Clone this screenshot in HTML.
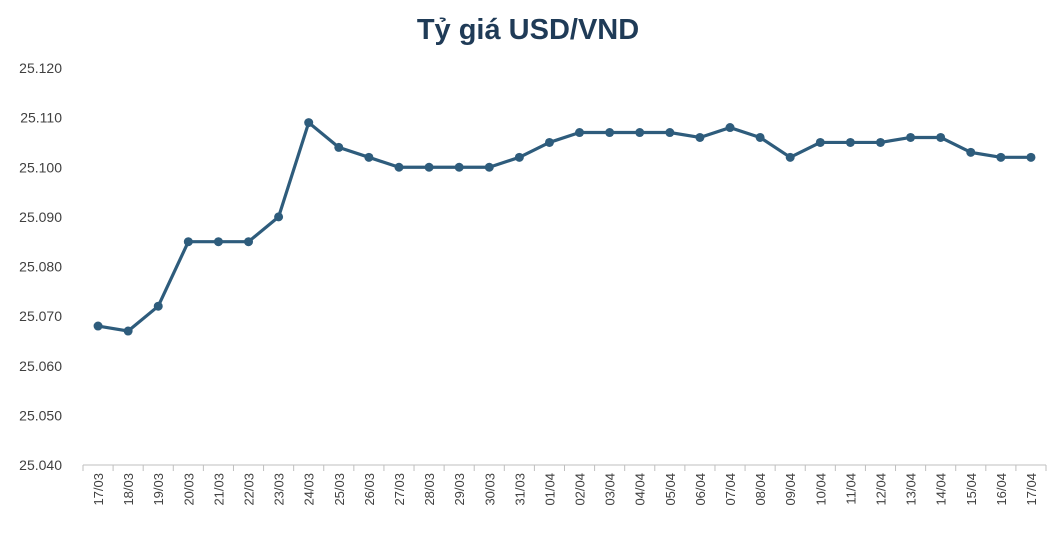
<!DOCTYPE html>
<html><head><meta charset="utf-8"><style>
body{margin:0;background:#fff;}
svg{display:block;font-family:"Liberation Sans",sans-serif;}
</style></head><body>
<svg id="chart" width="1052" height="538" xmlns="http://www.w3.org/2000/svg">
<text x="528" y="39" text-anchor="middle" font-size="29" font-weight="bold" fill="#1f3b57">Tỷ giá USD/VND</text>
<g id="yaxis"></g>
<g id="xaxis"></g>
<g id="series"></g>
</svg>
<script>
const categories=["17/03","18/03","19/03","20/03","21/03","22/03","23/03","24/03","25/03","26/03","27/03","28/03","29/03","30/03","31/03","01/04","02/04","03/04","04/04","05/04","06/04","07/04","08/04","09/04","10/04","11/04","12/04","13/04","14/04","15/04","16/04","17/04"];
const rates=[25068,25067,25072,25085,25085,25085,25090,25109,25104,25102,25100,25100,25100,25100,25102,25105,25107,25107,25107,25107,25106,25108,25106,25102,25105,25105,25105,25106,25106,25103,25102,25102];
const yTicks=[25040,25050,25060,25070,25080,25090,25100,25110,25120];
const yTickLabels=["25.040","25.050","25.060","25.070","25.080","25.090","25.100","25.110","25.120"];
const NS="http://www.w3.org/2000/svg";
const x0=83,x1=1046,yTop=68,yBot=465,yMin=25040,yMax=25120;
const bw=(x1-x0)/categories.length;
const xs=i=>x0+bw*(i+0.5);
const ys=v=>yBot-(v-yMin)/(yMax-yMin)*(yBot-yTop);
function mk(t,a,p){const e=document.createElementNS(NS,t);for(const k in a)e.setAttribute(k,a[k]);p.appendChild(e);return e;}
const ya=document.getElementById('yaxis'),xa=document.getElementById('xaxis'),se=document.getElementById('series');
yTicks.forEach((v,i)=>{const t=mk('text',{x:62,y:ys(v)+5,'text-anchor':'end','font-size':14,fill:'#404040'},ya);t.textContent=yTickLabels[i];

});
const ax=mk('line',{x1:x0,x2:x1,y1:yBot,y2:yBot,stroke:'#bfbfbf','stroke-width':1},xa);


for(let i=0;i<=categories.length;i++){const tk=mk('line',{x1:x0+bw*i,x2:x0+bw*i,y1:yBot,y2:yBot+6,stroke:'#bfbfbf'},xa);

}
categories.forEach((c,i)=>{const x=xs(i)+5,y=473;const t=mk('text',{x:x,y:y,'text-anchor':'end','font-size':13,fill:'#404040',transform:`rotate(-90 ${x} ${y})`},xa);t.textContent=c;

});
const pl=mk('polyline',{points:rates.map((v,i)=>xs(i)+','+ys(v)).join(' '),fill:'none',stroke:'#2e5c7c','stroke-width':3.2,'stroke-linejoin':'round'},se);


rates.forEach((v,i)=>{const c=mk('circle',{cx:xs(i),cy:ys(v),r:4.5,fill:'#2e5c7c'},se);

});
</script>
</body></html>
